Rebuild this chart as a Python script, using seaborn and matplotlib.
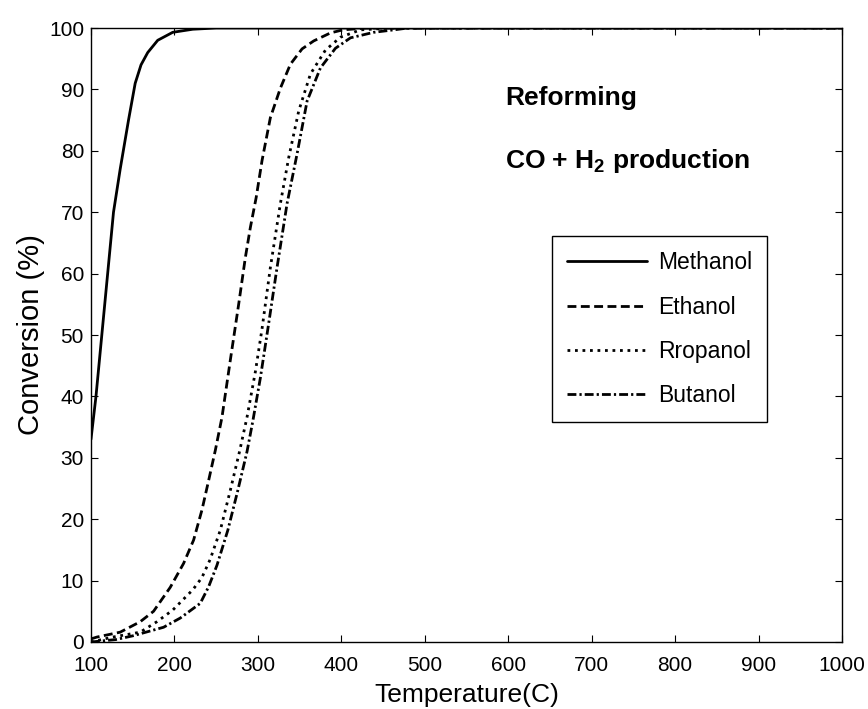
"""
plot.py
Conversion vs temperature for alcohol reforming (CO + H2 production).
"""

import matplotlib
matplotlib.use("Agg")
import matplotlib.pyplot as plt
import seaborn as sns

# ---------------------------------------------------------------------------
# Data
# ---------------------------------------------------------------------------
methanol_t = [100, 106, 113, 120, 127, 135, 145, 153, 160, 168, 180, 198, 222, 250, 1000]
methanol_x = [33, 40, 50, 60, 70, 77, 85, 91, 94, 96, 98, 99.3, 99.8, 100, 100]

ethanol_t = [100, 107, 135, 159, 175, 195, 211, 223, 233, 241, 249, 257, 267, 277,
             285, 291, 298, 305, 315, 327, 339, 353, 367, 387, 402, 430, 1000]
ethanol_x = [0.5, 0.8, 1.6, 3.3, 5.0, 8.9, 12.8, 16.6, 21.5, 26.3, 31.2, 36.6, 45.9, 55,
             62.6, 67.5, 72.4, 78.4, 85.4, 90.2, 94.1, 96.6, 97.9, 99.2, 99.7, 100, 100]

propanol_t = [100, 126, 159, 179, 198, 222, 233, 243, 255, 267, 278, 287, 297, 305, 315,
              327, 337, 349, 363, 381, 399, 423, 460, 1000]
propanol_x = [0, 0.8, 1.6, 3.3, 5.2, 8.5, 10.5, 13.5, 18.2, 24.7, 31, 36.6, 44, 51, 61,
              71.4, 78.9, 86.5, 92.5, 96.4, 98.5, 99.7, 100, 100]

butanol_t = [100, 130, 150, 187, 207, 231, 241, 251, 264, 276, 287, 294, 303, 313, 323,
             335, 347, 359, 375, 393, 411, 439, 463, 480, 1000]
butanol_x = [0, 0.4, 1.0, 2.4, 3.9, 6.3, 9.0, 12.5, 18.2, 24.7, 31, 36, 43, 51.9, 61,
             71.4, 79.5, 88.1, 93.5, 96.7, 98.4, 99.3, 99.7, 100, 100]

series_names = ["Methanol", "Ethanol", "Rropanol", "Butanol"]
x_ticks = list(range(100, 1001, 100))
y_ticks = list(range(0, 101, 10))

# ---------------------------------------------------------------------------
# Style
# ---------------------------------------------------------------------------
sns.set_style("ticks")
plt.rcParams["font.family"] = ["Liberation Sans", "DejaVu Sans"]
plt.rcParams["mathtext.fontset"] = "custom"
plt.rcParams["mathtext.rm"] = "Liberation Sans"
plt.rcParams["mathtext.bf"] = "Liberation Sans:bold"
plt.rcParams["text.color"] = "black"
plt.rcParams["axes.labelcolor"] = "black"

LW = 2.0
styles = [
    "-",
    (0, (3.2, 1.6)),
    (0, (1.0, 1.7)),
    (0, (3.2, 1.1, 0.8, 1.1)),
]

fig = plt.figure(figsize=(8.68, 7.09), dpi=100)
ax = fig.add_axes([0.1048, 0.0945, 0.8652, 0.866])

series = [
    (methanol_t, methanol_x),
    (ethanol_t, ethanol_x),
    (propanol_t, propanol_x),
    (butanol_t, butanol_x),
]
for (t, x), name, ls in zip(series, series_names, styles):
    sns.lineplot(x=t, y=x, ax=ax, color="black", linewidth=LW,
                 linestyle=ls, label=name, sort=False, errorbar=None)

ax.set_xlim(100, 1000)
ax.set_ylim(0, 100)
ax.set_xticks(x_ticks)
ax.set_yticks(y_ticks)
ax.tick_params(direction="in", length=5, width=0.8, top=True, right=True,
               labelsize=15, colors="black")
ax.tick_params(axis="x", pad=10)
ax.tick_params(axis="y", pad=5)
for sp in ax.spines.values():
    sp.set_visible(True)
    sp.set_color("black")
    sp.set_linewidth(1.0)

ax.set_xlabel("Temperature(C)", fontsize=19, labelpad=6)
ax.set_ylabel("Conversion (%)", fontsize=21, labelpad=3)

ax.text(596, 88.6, "Reforming", fontsize=19, fontweight="bold",
        va="center", ha="left")
ax.text(596, 78.4, r"CO + H$_\mathbf{2}$ production", fontsize=19,
        fontweight="bold", va="center", ha="left")

leg = ax.legend(loc="upper left", bbox_to_anchor=(0.614, 0.661),
                borderaxespad=0, fontsize=16.5, frameon=True, fancybox=False,
                shadow=False, framealpha=1, edgecolor="black",
                handlelength=3.5, handletextpad=0.45, labelspacing=0.93,
                borderpad=0.66)
leg.get_frame().set_linewidth(1.0)
for txt in leg.get_texts():
    txt.set_color("black")

fig.savefig("out.png", dpi=100, facecolor="white")
